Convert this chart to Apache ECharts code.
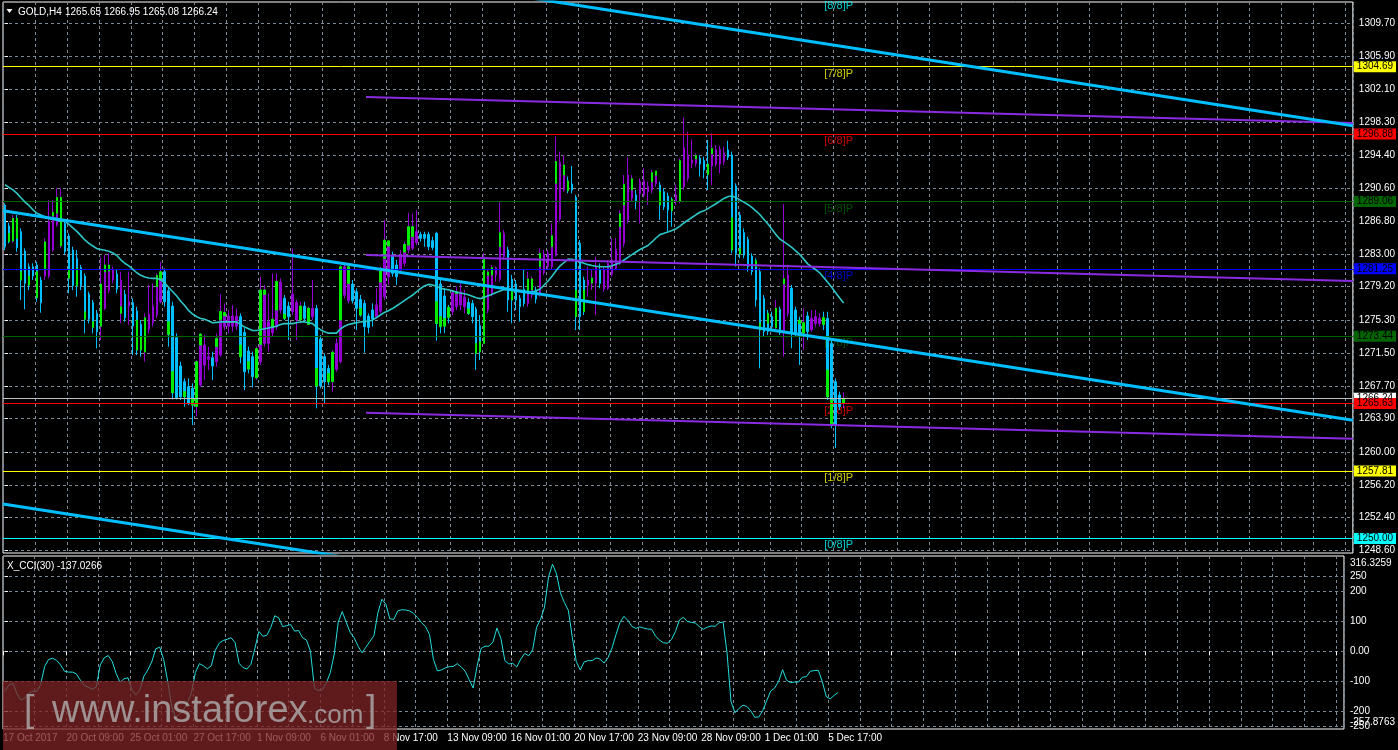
<!DOCTYPE html>
<html><head><meta charset="utf-8">
<script src="https://cdn.jsdelivr.net/npm/echarts@6/dist/echarts.min.js"></script>
<style>html,body{margin:0;padding:0;background:#000;overflow:hidden}#c{width:1398px;height:750px}</style>
</head><body><div id="c"></div>
<script>
// ---------------- data ----------------
const haOpen = [1288.65,1286.22,1284.98,1286.53,1285.56,1283.32,1281.50,1281.50,1281.70,1279.96,1280.42,1280.42,1283.43,1286.33,1286.53,1286.53,1285.06,1283.43,1282.47,1281.39,1280.42,1278.33,1277.33,1276.09,1274.93,1276.67,1278.72,1279.96,1280.65,1276.09,1278.29,1276.98,1277.33,1276.36,1274.82,1271.84,1274.24,1275.01,1275.90,1277.44,1280.92,1278.72,1276.94,1273.27,1269.99,1268.17,1267.59,1267.40,1265.46,1267.78,1270.10,1270.76,1270.95,1270.49,1271.26,1274.55,1274.60,1274.60,1274.60,1275.71,1273.89,1271.72,1271.07,1268.75,1270.49,1272.61,1272.61,1273.85,1274.55,1276.48,1277.83,1276.94,1276.32,1275.32,1276.56,1276.94,1274.93,1275.71,1276.67,1273.12,1271.07,1269.71,1269.13,1269.60,1270.49,1278.22,1277.56,1279.49,1278.60,1277.71,1277.25,1275.78,1276.48,1275.71,1276.36,1278.02,1280.34,1282.74,1281.70,1281.12,1281.89,1283.43,1283.63,1284.29,1285.25,1285.25,1285.25,1284.52,1285.37,1279.50,1278.10,1276.67,1276.29,1276.87,1277.06,1276.87,1277.37,1277.25,1276.60,1274.66,1272.81,1276.48,1278.41,1280.54,1280.04,1282.67,1283.44,1280.04,1279.50,1277.84,1278.88,1277.25,1278.22,1278.80,1278.41,1280.81,1281.51,1281.51,1282.86,1287.03,1290.39,1291.36,1291.09,1289.54,1284.21,1279.96,1279.38,1279.50,1279.57,1281.20,1278.92,1278.99,1280.62,1281.31,1281.89,1284.21,1286.92,1289.43,1289.82,1290.01,1289.82,1290.20,1290.39,1291.09,1290.97,1290.20,1289.70,1289.16,1289.16,1289.16,1290.78,1291.75,1293.49,1293.49,1294.07,1293.80,1293.29,1293.18,1293.41,1293.41,1293.68,1295.03,1294.45,1290.86,1287.50,1285.45,1284.67,1282.74,1282.08,1280.93,1277.84,1276.02,1275.71,1274.55,1276.56,1273.85,1276.10,1278.99,1276.48,1275.24,1273.97,1275.79,1274.16,1274.93,1274.93,1275.51,1275.51,1272.62,1268.17,1266.63,1265.66];
const haClose = [1283.82,1285.37,1287.11,1283.71,1279.96,1279.57,1279.38,1280.42,1280.34,1277.33,1283.43,1286.72,1287.57,1288.15,1288.85,1283.24,1280.15,1279.30,1279.30,1279.30,1275.43,1275.43,1274.47,1273.97,1279.26,1281.58,1281.58,1281.12,1278.91,1279.96,1275.59,1277.44,1274.62,1271.84,1271.84,1275.43,1275.98,1276.94,1280.34,1280.54,1277.44,1273.66,1266.89,1266.31,1266.43,1266.43,1265.66,1265.66,1270.30,1273.58,1272.42,1271.07,1269.99,1273.08,1276.21,1275.82,1275.80,1275.80,1275.75,1271.07,1269.33,1269.64,1268.75,1271.84,1278.68,1278.68,1275.12,1275.32,1279.72,1279.72,1275.71,1275.71,1278.33,1277.37,1276.94,1275.51,1276.56,1276.67,1267.67,1267.67,1268.17,1268.17,1271.53,1272.61,1281.12,1281.50,1281.12,1277.56,1276.67,1275.90,1274.55,1274.47,1275.43,1277.06,1280.92,1283.90,1283.90,1280.73,1280.34,1282.86,1284.02,1284.59,1285.56,1285.56,1284.79,1284.79,1283.82,1283.74,1274.93,1274.90,1275.30,1275.71,1278.49,1278.49,1278.61,1277.95,1276.10,1275.71,1271.46,1271.65,1282.28,1280.73,1281.31,1281.39,1285.37,1285.37,1277.64,1277.64,1277.64,1276.87,1277.25,1278.99,1280.04,1277.76,1282.97,1282.97,1283.05,1284.98,1293.60,1293.60,1293.18,1290.39,1290.39,1275.71,1275.71,1276.29,1279.96,1280.15,1281.51,1279.57,1281.20,1281.89,1282.28,1283.52,1287.57,1290.97,1292.13,1291.63,1289.04,1291.36,1291.48,1290.78,1292.33,1292.25,1288.66,1288.46,1288.08,1288.15,1289.82,1293.68,1295.30,1294.45,1293.87,1294.26,1293.41,1292.71,1292.33,1295.11,1295.11,1295.11,1294.65,1294.18,1283.44,1283.05,1282.97,1282.86,1281.51,1280.93,1277.64,1274.16,1273.97,1273.97,1274.55,1276.56,1273.85,1279.96,1280.54,1273.85,1273.85,1273.39,1274.86,1273.97,1275.51,1275.71,1275.51,1274.93,1266.43,1263.15,1263.15,1265.27,1266.05];
const haLow = [1283.43,1284.21,1284.28,1283.24,1277.64,1276.56,1278.80,1279.96,1277.44,1276.17,1279.96,1280.15,1283.24,1286.14,1283.63,1282.86,1278.41,1278.80,1278.02,1278.80,1273.77,1274.93,1273.77,1272.03,1273.00,1276.48,1278.41,1279.57,1278.41,1274.93,1275.12,1274.74,1271.26,1271.26,1271.07,1270.49,1273.77,1274.55,1275.51,1277.25,1276.86,1272.23,1266.12,1266.12,1266.04,1265.27,1265.46,1263.14,1264.11,1267.59,1268.36,1269.52,1268.36,1269.91,1271.07,1274.16,1273.77,1273.97,1274.16,1270.30,1267.20,1269.13,1267.51,1268.36,1270.10,1272.23,1271.65,1273.39,1274.16,1276.09,1275.32,1273.00,1275.90,1273.00,1274.93,1275.12,1274.74,1275.32,1265.08,1267.40,1265.66,1267.78,1267.01,1269.33,1270.30,1277.83,1277.25,1277.25,1274.16,1275.71,1271.53,1273.77,1274.55,1275.51,1276.09,1277.64,1279.38,1280.34,1279.38,1280.73,1281.50,1283.05,1283.43,1284.02,1284.40,1283.82,1283.43,1283.43,1272.92,1273.77,1273.80,1274.93,1275.90,1276.48,1276.48,1276.10,1275.90,1274.93,1269.53,1270.69,1272.62,1276.10,1278.03,1279.77,1279.77,1282.28,1276.29,1274.93,1276.48,1275.13,1276.87,1276.87,1277.84,1277.25,1278.03,1280.54,1281.12,1281.12,1282.67,1286.73,1290.20,1290.01,1290.01,1274.16,1274.16,1275.90,1278.03,1278.80,1275.90,1278.99,1278.61,1278.80,1280.35,1281.12,1281.70,1283.82,1286.53,1289.04,1288.15,1286.53,1289.54,1288.66,1290.01,1290.78,1286.92,1288.08,1285.56,1286.14,1288.66,1288.85,1290.39,1291.36,1292.91,1293.10,1291.94,1291.75,1290.39,1290.97,1293.10,1292.33,1293.29,1293.87,1283.05,1281.51,1282.47,1282.47,1280.93,1280.54,1276.87,1269.72,1273.39,1273.58,1274.16,1273.97,1273.58,1271.07,1275.71,1272.04,1273.39,1270.11,1271.84,1273.00,1273.97,1274.55,1274.55,1274.16,1266.05,1262.76,1260.48,1264.89,1265.08];
const haHigh = [1288.85,1286.60,1287.49,1287.49,1285.95,1283.63,1281.89,1281.89,1282.08,1280.34,1284.79,1289.23,1289.23,1290.58,1290.58,1286.91,1285.37,1283.82,1283.43,1281.70,1280.73,1278.60,1277.64,1276.48,1282.58,1282.86,1283.05,1281.50,1281.12,1280.92,1278.80,1280.92,1277.83,1276.86,1275.32,1276.09,1279.38,1279.57,1280.73,1282.08,1281.31,1279.18,1277.44,1273.77,1270.49,1268.56,1268.56,1267.98,1270.68,1273.77,1273.58,1272.23,1271.65,1273.77,1278.33,1277.25,1276.48,1277.06,1276.67,1276.09,1274.35,1272.23,1271.65,1272.23,1280.34,1279.38,1278.41,1280.73,1280.73,1280.15,1278.22,1277.44,1283.63,1277.64,1277.44,1277.44,1276.86,1279.96,1277.06,1273.58,1271.45,1270.10,1271.84,1273.19,1281.70,1281.89,1281.70,1279.96,1278.99,1278.22,1277.64,1276.09,1277.25,1278.99,1281.50,1286.91,1284.40,1283.24,1282.28,1283.43,1284.40,1287.76,1287.69,1288.07,1285.56,1285.56,1285.56,1284.98,1285.56,1280.00,1278.99,1277.06,1278.80,1279.19,1279.57,1278.80,1277.84,1277.64,1276.87,1275.90,1283.05,1281.12,1281.70,1281.51,1289.04,1285.76,1283.82,1280.54,1279.96,1278.22,1281.12,1280.93,1280.35,1279.19,1283.63,1283.44,1283.44,1286.53,1296.58,1294.84,1294.45,1291.94,1293.18,1289.82,1284.60,1280.35,1281.51,1281.12,1282.67,1281.89,1281.51,1282.28,1284.79,1284.79,1288.08,1292.13,1294.18,1292.13,1290.39,1291.75,1292.91,1291.36,1292.71,1292.52,1291.36,1290.59,1290.09,1289.54,1290.97,1294.07,1298.82,1297.16,1296.27,1294.65,1294.45,1294.26,1296.19,1296.96,1295.61,1295.50,1295.42,1296.11,1294.84,1291.17,1287.88,1285.95,1284.98,1283.05,1282.47,1281.31,1278.22,1276.48,1276.29,1277.64,1276.87,1288.77,1281.51,1279.38,1276.87,1275.71,1276.67,1276.29,1276.48,1276.48,1276.10,1276.29,1276.29,1273.00,1268.56,1267.01,1266.95];
// real (bullish) candle bodies that show in green over the Heiken-Ashi bars
const greenBars = [1,2,3,4,6,8,10,12,13,14,16,18,20,22,24,25,26,29,33,34,35,38,39,41,42,45,47,48,49,53,54,55,59,61,63,64,65,67,68,70,74,76,78,81,82,84,86,89,94,95,96,100,101,102,108,109,110,111,113,116,118,119,120,121,122,124,127,131,132,134,137,138,140,141,143,145,147,154,155,157,162,163,164,167,169,173,176,177,182,184,188,189,191,193,195,199,200,205,206,207,210];
const greenLow = [1284.40,1284.48,1284.79,1279.96,1279.38,1277.91,1281.12,1287.40,1287.69,1283.90,1280.15,1279.30,1275.43,1274.47,1274.60,1280.90,1281.00,1276.09,1271.84,1271.84,1271.60,1279.18,1279.96,1273.66,1266.89,1266.43,1265.46,1265.30,1272.42,1272.23,1275.32,1275.80,1271.07,1269.64,1268.60,1272.50,1278.30,1274.55,1276.48,1275.50,1275.32,1274.80,1267.67,1268.17,1268.17,1275.32,1279.57,1275.90,1279.72,1282.47,1283.90,1283.20,1284.00,1285.00,1274.93,1274.55,1274.60,1275.60,1278.40,1276.10,1271.46,1271.65,1272.60,1280.50,1280.54,1283.82,1277.64,1278.60,1278.80,1281.51,1283.82,1291.17,1292.13,1290.30,1275.71,1276.29,1279.60,1286.14,1288.66,1290.39,1291.36,1292.10,1288.66,1288.00,1289.10,1294.00,1292.20,1294.60,1283.44,1282.97,1281.50,1274.16,1274.93,1274.40,1279.50,1274.90,1273.80,1274.80,1266.43,1263.15,1265.65];
const greenHigh = [1285.37,1287.11,1287.11,1280.92,1280.42,1280.92,1284.40,1287.80,1289.54,1289.54,1281.19,1281.31,1276.28,1275.12,1279.50,1281.70,1281.70,1276.86,1275.32,1273.39,1275.60,1280.50,1280.92,1275.12,1269.33,1267.01,1266.23,1270.50,1273.70,1273.20,1276.30,1276.21,1272.42,1270.49,1272.00,1278.80,1278.80,1275.40,1279.80,1276.00,1276.94,1276.70,1269.71,1269.13,1271.60,1281.50,1281.50,1276.67,1281.00,1284.59,1284.50,1284.10,1286.14,1286.14,1277.44,1275.71,1275.50,1276.80,1278.60,1276.60,1272.62,1272.81,1282.40,1280.90,1281.40,1285.45,1278.80,1280.08,1280.10,1283.05,1285.10,1293.70,1293.30,1291.45,1278.80,1278.80,1280.20,1287.65,1291.05,1291.70,1292.40,1292.60,1290.20,1289.30,1293.80,1294.40,1293.40,1295.20,1287.19,1283.63,1282.20,1274.93,1276.10,1276.70,1280.10,1275.30,1275.00,1275.60,1269.53,1266.05,1266.24];
const maValues = [1291.0,1290.7,1290.4,1290.0,1289.5,1289.0,1288.6,1288.1,1287.7,1287.5,1287.3,1287.1,1287.0,1286.9,1286.8,1286.8,1286.4,1286.0,1285.6,1285.1,1284.6,1284.2,1283.9,1283.6,1283.5,1283.4,1283.3,1283.1,1282.8,1282.3,1281.9,1281.6,1281.2,1280.8,1280.5,1280.3,1280.2,1280.15,1280.15,1280.0,1279.6,1279.1,1278.6,1278.1,1277.5,1277.0,1276.4,1276.0,1275.7,1275.5,1275.4,1275.2,1275.0,1275.05,1275.1,1275.1,1275.1,1275.1,1275.1,1274.8,1274.5,1274.3,1274.1,1274.1,1274.2,1274.3,1274.4,1274.5,1274.6,1274.8,1274.9,1274.9,1274.9,1275.0,1275.1,1275.1,1275.0,1274.9,1274.5,1274.2,1273.96,1273.8,1273.8,1273.8,1274.3,1274.6,1274.8,1274.9,1275.0,1275.1,1275.16,1275.2,1275.3,1275.6,1275.9,1276.2,1276.4,1276.65,1276.95,1277.26,1277.57,1277.88,1278.19,1278.57,1278.96,1279.26,1279.45,1279.39,1279.24,1279.0,1278.9,1278.82,1278.7,1278.58,1278.46,1278.36,1278.25,1278.08,1277.9,1277.8,1277.96,1278.14,1278.32,1278.51,1278.68,1278.85,1278.86,1278.77,1278.68,1278.6,1278.55,1278.5,1278.58,1278.71,1278.92,1279.38,1279.84,1280.42,1281.04,1281.6,1281.99,1282.38,1282.36,1282.2,1282.05,1281.89,1281.74,1281.64,1281.56,1281.5,1281.5,1281.5,1281.62,1281.78,1281.97,1282.28,1282.59,1282.9,1283.21,1283.5,1283.73,1283.96,1284.37,1284.83,1285.22,1285.37,1285.53,1285.7,1285.89,1286.2,1286.57,1286.9,1287.21,1287.52,1287.82,1287.98,1288.24,1288.52,1288.8,1289.11,1289.42,1289.61,1289.73,1289.51,1289.25,1288.99,1288.72,1288.37,1287.98,1287.55,1287.01,1286.47,1285.87,1285.25,1284.71,1284.4,1284.09,1283.73,1283.34,1282.92,1282.38,1281.83,1281.47,1281.16,1280.79,1280.25,1279.71,1279.11,1278.49,1277.88,1277.3];
const cciValues = [-131,-112,-106,-140,-162,-155,-138,-133,-133,-110,-50,-27,-23,-30,-45,-66,-69,-69,-75,-96,-114,-119,-126,-119,-46,-22,-14,-33,-73,-103,-91,-88,-129,-145,-128,-83,-62,-35,8,14,-27,-99,-182,-221,-208,-194,-171,-138,-70,-41,-48,-58,-48,3,27,36,40,45,29,-40,-54,-59,-43,10,66,50,53,79,118,111,82,85,89,67,69,45,37,0,-123,-130,-128,-105,-71,-9,97,132,97,63,45,17,-5,14,33,52,128,173,156,108,106,134,138,137,134,126,112,95,82,56,-27,-65,-62,-55,-51,-50,-41,-52,-66,-94,-122,-49,9,17,17,31,77,43,-31,-42,-40,-52,-26,-7,-15,5,80,106,147,246,289,258,194,162,136,46,-34,-62,-35,-31,-31,-22,-26,-39,-21,11,55,95,116,103,83,76,81,77,74,73,50,37,28,27,39,66,104,113,99,96,94,82,73,80,84,83,95,97,-5,-167,-204,-190,-179,-183,-198,-219,-218,-197,-164,-132,-122,-100,-61,-96,-104,-102,-102,-86,-84,-66,-64,-63,-100,-150,-158,-146,-137.0266];
// straight lines: [start, end] prices at channelX / violetX bar positions
const channelX = [-0.5, 337.5];
const channelUpper = [1322.15, 1297.85];
const channelMid = [1288.00, 1263.70];
const channelLow = [1253.99, 1229.69];
const violetX = [90.4, 337.5];
const violetUpper = [1301.18, 1298.16];
const violetMid = [1282.86, 1279.84];
const violetLow = [1264.57, 1261.55];
// Murrey levels
const murreyLevels = [1250.00,1257.81,1265.63,1273.44,1281.25,1289.06,1296.88,1304.69,1312.50];
const murreyNames = ['[0/8]P','[1/8]P','[2/8]P','[3/8]P','[4/8]P','[5/8]P','[6/8]P','[7/8]P','[8/8]P'];
const murreyColors = ['#00ffff','#ffff00','#ff0000','#006400','#0000ff','#006400','#ff0000','#ffff00','#00ffff'];
const bidPrice = 1266.24;
// axis ticks
const yTickValues = [1248.60,1252.40,1256.20,1260.00,1263.90,1267.70,1271.50,1275.30,1279.20,1283.00,1286.80,1290.60,1294.40,1298.30,1302.10,1305.90,1309.70];
const cciGridValues = [-250,-200,-100,0,100,200,250];
const cciLabelValues = [-257.8763,-200,-100,0,100,200,250,316.3259];
const cciLabelTexts = ['-257.8763','-200','-100','0.00','100','200','250','316.3259'];
const cciExtraLabelValues = [-250];
const cciExtraLabelTexts = ['-250'];
const xTickLabels = ['17 Oct 2017','20 Oct 09:00','25 Oct 01:00','27 Oct 17:00','1 Nov 09:00','6 Nov 01:00','8 Nov 17:00','13 Nov 09:00','16 Nov 01:00','20 Nov 17:00','23 Nov 09:00','28 Nov 09:00','1 Dec 01:00','5 Dec 17:00'];
const titleText = 'GOLD,H4';
const titleQuote = '1265.65 1266.95 1265.08 1266.24';
const cciTitle = 'X_CCI(30) -137.0266';

// ---------------- layout / style ----------------
const FONT = "'Liberation Sans',Arial,sans-serif";
const FS = 10;
const X_MIN = -0.5, X_MAX = 337.5;
const CCI_MIN = -257.8763, CCI_MAX = 316.3259;
const MURREY_LABEL_X = 208.75;
const GRID_C = '#7a8898';
const xTickValues = [];
for (let v = X_MIN; v < X_MAX; v += 16) xTickValues.push(v);

const haData = haOpen.map((o, i) => [i, o, haClose[i], haLow[i], haHigh[i]]);
const greenData = greenBars.map((b, k) => [b, greenLow[k], greenHigh[k], greenLow[k], greenHigh[k]]);
const maData = maValues.map((v, i) => [i, v]);
const cciData = cciValues.map((v, i) => [i, v]);

function straight(xs, ys) { return [[xs[0], ys[0]], [xs[1], ys[1]]]; }
function lineSeries(xs, ys, color, width, z) {
  return { type: 'line', xAxisIndex: 0, yAxisIndex: 0, data: straight(xs, ys), showSymbol: false, symbol: 'none',
    lineStyle: { color: color, width: width }, z: z, silent: true, animation: false };
}
function nearestIndex(arr, v) {
  let k = 0, best = 1e9;
  arr.forEach((c, i) => { const d = Math.abs(c - v); if (d < best) { best = d; k = i; } });
  return k;
}

const splitX = (gridIndex) => ({
  type: 'value', gridIndex: gridIndex, min: X_MIN, max: X_MAX, interval: 8,
  axisLine: { show: false }, axisTick: { show: false }, axisLabel: { show: false },
  splitLine: { show: true, lineStyle: { color: GRID_C, type: [3, 3], width: 1 } }
});

const markLineData = [];
murreyLevels.forEach((lv, i) => {
  if (lv > 1312.19) return;
  markLineData.push({ yAxis: lv, lineStyle: { color: murreyColors[i], width: 1, type: 'solid' },
    label: { backgroundColor: murreyColors[i], color: '#000', formatter: lv.toFixed(2) } });
});
// bid line placed before the 2/8 tag so the red tag lies over it
markLineData.splice(2, 0, { yAxis: bidPrice, lineStyle: { color: '#c0c0c0', width: 1, type: 'solid' },
  label: { backgroundColor: '#ffffff', color: '#000', formatter: bidPrice.toFixed(2) } });

const option = {
  backgroundColor: '#000000',
  animation: false,
  textStyle: { fontFamily: FONT },
  grid: [
    { left: 3, top: 2, width: 1352, height: 551, show: true, borderColor: '#ffffff', borderWidth: 1, backgroundColor: 'transparent' },
    { left: 3, top: 556, width: 1352, height: 173, show: true, borderColor: '#ffffff', borderWidth: 1, backgroundColor: 'transparent' }
  ],
  xAxis: [
    splitX(0),
    splitX(1),
    { type: 'value', gridIndex: 1, min: X_MIN, max: X_MAX, position: 'bottom',
      axisLine: { show: false }, splitLine: { show: false },
      axisTick: { show: true, customValues: xTickValues, length: 4, lineStyle: { color: '#ffffff' } },
      axisLabel: { show: true, customValues: xTickValues, color: '#ffffff', fontSize: FS, fontFamily: FONT, align: 'left', margin: 4,
        formatter: (v) => { const k = Math.round((v - X_MIN) / 16); return xTickLabels[k] || ''; } } }
  ],
  yAxis: [
    { type: 'value', gridIndex: 0, position: 'right', min: 1248.31, max: 1312.19,
      axisLine: { show: false },
      axisTick: { show: true, customValues: yTickValues, length: 3, lineStyle: { color: '#ffffff' } },
      axisLabel: { customValues: yTickValues, color: '#ffffff', fontSize: FS, fontFamily: FONT, margin: 6, formatter: (v) => v.toFixed(2) },
      splitLine: { show: true, lineStyle: { color: GRID_C, type: [3, 3], width: 1 } } },
    { type: 'value', gridIndex: 1, position: 'right', min: CCI_MIN, max: CCI_MAX,
      axisLine: { show: false },
      axisTick: { show: true, customValues: cciGridValues, length: 3, lineStyle: { color: '#ffffff' } },
      axisLabel: { customValues: cciLabelValues, showMinLabel: true, showMaxLabel: true, hideOverlap: false,
        color: '#ffffff', fontSize: FS, fontFamily: FONT, margin: 6,
        formatter: (v) => {
          const k = nearestIndex(cciLabelValues, v);
          if (k === cciLabelValues.length - 1) return '{top|' + cciLabelTexts[k] + '}';
          if (k === 0) return '{bot|' + cciLabelTexts[k] + '}';
          return cciLabelTexts[k];
        },
        rich: { top: { padding: [14, 0, 0, 0], color: '#ffffff', fontSize: FS, fontFamily: FONT },
                bot: { padding: [0, 0, 14, 0], color: '#ffffff', fontSize: FS, fontFamily: FONT } } },
      splitLine: { show: true, lineStyle: { color: GRID_C, type: [3, 3], width: 1 } } },
    { type: 'value', gridIndex: 1, position: 'right', min: CCI_MIN, max: CCI_MAX,
      axisLine: { show: false }, axisTick: { show: false }, splitLine: { show: false },
      axisLabel: { customValues: cciExtraLabelValues, showMinLabel: false, showMaxLabel: false, color: '#ffffff', fontSize: FS, fontFamily: FONT, margin: 6,
        formatter: (v) => cciExtraLabelTexts[nearestIndex(cciExtraLabelValues, v)] } }
  ],
  series: [
    { type: 'scatter', xAxisIndex: 0, yAxisIndex: 0, clip: false, symbolSize: 0, z: 1, silent: true,
      data: murreyLevels.map((lv, i) => ({ value: [MURREY_LABEL_X, lv],
        label: { show: true, position: 'inside', offset: [0, 7], formatter: murreyNames[i], color: murreyColors[i], fontSize: 11, fontFamily: FONT } })),
      markLine: { silent: true, symbol: 'none', animation: false, data: markLineData,
        label: { show: true, position: 'end', distance: 1, padding: [1, 3, 0, 3], fontSize: FS, fontFamily: FONT } } },
    { type: 'candlestick', xAxisIndex: 0, yAxisIndex: 0, z: 3, barWidth: 2, silent: true,
      encode: { x: 0, y: [1, 2, 3, 4] }, data: haData,
      itemStyle: { color: '#9400d3', color0: '#00bfff', borderColor: '#9400d3', borderColor0: '#00bfff', borderWidth: 1 } },
    { type: 'candlestick', xAxisIndex: 0, yAxisIndex: 0, z: 4, barWidth: 2, silent: true,
      encode: { x: 0, y: [1, 2, 3, 4] }, data: greenData,
      itemStyle: { color: '#00ee00', color0: '#00ee00', borderColor: '#00ee00', borderColor0: '#00ee00', borderWidth: 1 } },
    { type: 'line', xAxisIndex: 0, yAxisIndex: 0, data: maData, showSymbol: false, symbol: 'none', z: 5, silent: true,
      lineStyle: { color: '#2ec6c6', width: 1.6 } },
    lineSeries(violetX, violetUpper, '#8a2be2', 2, 6),
    lineSeries(violetX, violetMid, '#8a2be2', 2, 6),
    lineSeries(violetX, violetLow, '#8a2be2', 2, 6),
    lineSeries(channelX, channelUpper, '#00bfff', 3, 7),
    lineSeries(channelX, channelMid, '#00bfff', 3, 7),
    lineSeries(channelX, channelLow, '#00bfff', 3, 7),
    { type: 'line', xAxisIndex: 1, yAxisIndex: 1, data: cciData, showSymbol: false, symbol: 'none', z: 4, silent: true,
      lineStyle: { color: '#22dede', width: 1 } }
  ],
  graphic: [
    { type: 'polygon', shape: { points: [[6.5, 9], [12.5, 9], [9.5, 13]] }, style: { fill: '#ffffff' }, z: 100 },
    { type: 'text', x: 18, y: 12, style: { text: titleText, fill: '#ffffff', font: FS + 'px ' + FONT, verticalAlign: 'middle' }, z: 100 },
    { type: 'text', x: 65, y: 12, style: { text: titleQuote, fill: '#ffffff', font: FS + 'px ' + FONT, verticalAlign: 'middle' }, z: 100 },
    { type: 'text', x: 7, y: 566, style: { text: cciTitle, fill: '#ffffff', font: FS + 'px ' + FONT, verticalAlign: 'middle' }, z: 100 },
    { type: 'rect', shape: { x: 3, y: 681, width: 394, height: 69 }, style: { fill: 'rgba(125,35,35,0.76)' }, z: 90 },
    { type: 'text', x: 24, y: 711, style: { text: '[', fill: 'rgba(175,175,175,0.8)', font: '37px Liberation Sans', verticalAlign: 'middle' }, z: 91 },
    { type: 'text', x: 52, y: 712, style: { text: 'www.instaforex', fill: 'rgba(175,175,175,0.8)', font: '38px Liberation Sans', verticalAlign: 'middle' }, z: 91 },
    { type: 'text', x: 307, y: 716, style: { text: '.com', fill: 'rgba(175,175,175,0.8)', font: '26px Liberation Sans', verticalAlign: 'middle' }, z: 91 },
    { type: 'text', x: 366, y: 711, style: { text: ']', fill: 'rgba(175,175,175,0.8)', font: '37px Liberation Sans', verticalAlign: 'middle' }, z: 91 }
  ]
};
echarts.init(document.getElementById('c'), null, { renderer: 'canvas' }).setOption(option);
</script></body></html>
